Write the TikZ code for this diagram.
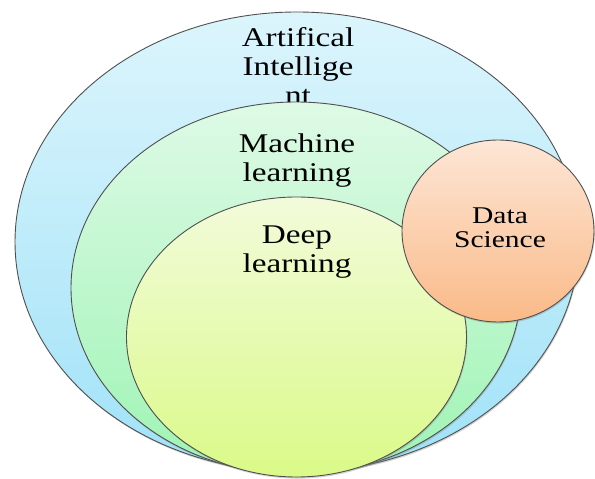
\documentclass[tikz,border=0pt]{standalone}
\usepackage{fontspec}
\setmainfont{Liberation Serif}
\newfontfamily\lblfont[FakeStretch=1.23]{Liberation Serif}
\usetikzlibrary{shapes.geometric,shadows}
\definecolor{aitop}{RGB}{220,245,252}
\definecolor{aibot}{RGB}{160,226,248}
\definecolor{mltop}{RGB}{222,250,230}
\definecolor{mlbot}{RGB}{158,244,180}
\definecolor{dltop}{RGB}{242,251,218}
\definecolor{dlbot}{RGB}{218,250,136}
\definecolor{dstop}{RGB}{253,230,214}
\definecolor{dsbot}{RGB}{250,186,136}
\definecolor{edge}{RGB}{80,80,80}
\tikzset{
  setellipse/.style={ellipse, draw=edge, line width=0.9pt, inner sep=0pt,
    drop shadow={shadow xshift=0.8pt, shadow yshift=-1.6pt, opacity=0.35}},
  setlabel/.style={align=center, inner sep=0pt, anchor=base,
    font=\lblfont\fontsize{27}{29}\selectfont},
  dslabel/.style={align=center, inner sep=0pt, anchor=base,
    font=\lblfont\fontsize{24}{24.5}\selectfont}
}
\begin{document}
\begin{tikzpicture}[x=1pt,y=1pt]
\useasboundingbox (0,0) rectangle (595,479);
\node[setellipse, minimum width=564pt, minimum height=460pt,
      top color=aitop, bottom color=aibot] (ai) at (297,237) {};
\node[setlabel] (ait) at (298,374.5) {Artifical\\Intellige\\nt};
\node[setellipse, minimum width=450pt, minimum height=372pt,
      top color=mltop, bottom color=mlbot] (ml) at (296,191) {};
\node[setlabel] (mlt) at (297,297) {Machine\\learning};
\node[setellipse, minimum width=340pt, minimum height=280pt,
      top color=dltop, bottom color=dlbot] (dl) at (296.5,142) {};
\node[setlabel] (dlt) at (297,206) {Deep\\learning};
\node[setellipse, minimum width=192pt, minimum height=182pt,
      top color=dstop, bottom color=dsbot] (ds) at (498,248) {};
\node[dslabel] (dst) at (500,231) {Data\\Science};
\end{tikzpicture}
\end{document}
